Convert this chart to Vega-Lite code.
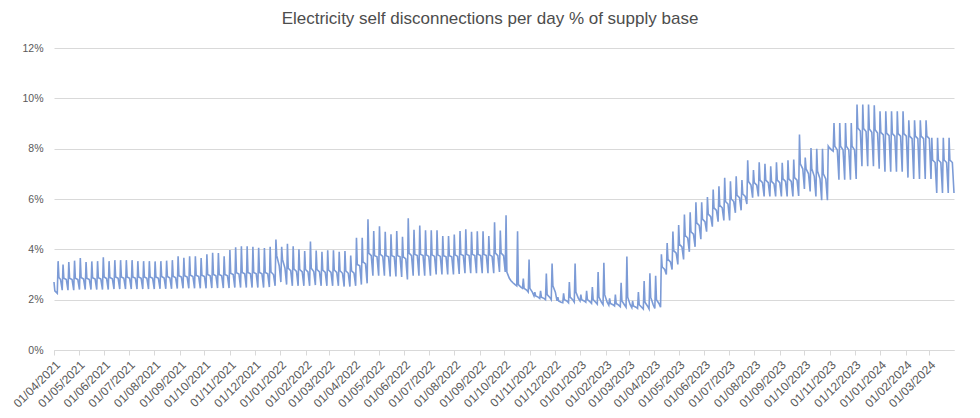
{
  "$schema": "https://vega.github.io/schema/vega-lite/v6.json",
  "width": 900,
  "height": 302,
  "autosize": {"type": "none"},
  "padding": {"left": 54, "top": 48, "right": 26, "bottom": 68},
  "background": "white",
  "title": {"text": "Electricity self disconnections per day % of supply base", "font": "Liberation Sans", "fontSize": 17, "fontWeight": "normal", "color": "#4d4d4d", "anchor": "middle", "offset": 15, "dx": -14},
  "data": {"values": [
{"d":"2021-04-01","v":2.7},{"d":"2021-04-02","v":2.35},{"d":"2021-04-05","v":2.25},{"d":"2021-04-06","v":3.53},{"d":"2021-04-07","v":2.88},{"d":"2021-04-09","v":2.8},{"d":"2021-04-11","v":2.38},
{"d":"2021-04-12","v":3.4},{"d":"2021-04-13","v":2.85},{"d":"2021-04-16","v":2.8},{"d":"2021-04-18","v":2.38},
{"d":"2021-04-19","v":3.5},{"d":"2021-04-20","v":2.85},{"d":"2021-04-23","v":2.8},{"d":"2021-04-25","v":2.38},
{"d":"2021-04-26","v":3.55},{"d":"2021-04-27","v":2.85},{"d":"2021-04-30","v":2.8},{"d":"2021-05-02","v":2.4},
{"d":"2021-05-03","v":3.65},{"d":"2021-05-04","v":2.88},{"d":"2021-05-07","v":2.82},{"d":"2021-05-09","v":2.4},
{"d":"2021-05-10","v":3.5},{"d":"2021-05-11","v":2.85},{"d":"2021-05-14","v":2.8},{"d":"2021-05-16","v":2.4},
{"d":"2021-05-17","v":3.52},{"d":"2021-05-18","v":2.87},{"d":"2021-05-21","v":2.82},{"d":"2021-05-23","v":2.4},
{"d":"2021-05-24","v":3.53},{"d":"2021-05-25","v":2.87},{"d":"2021-05-28","v":2.82},{"d":"2021-05-30","v":2.4},
{"d":"2021-05-31","v":3.68},{"d":"2021-06-01","v":2.9},{"d":"2021-06-04","v":2.84},{"d":"2021-06-06","v":2.4},
{"d":"2021-06-07","v":3.53},{"d":"2021-06-08","v":2.88},{"d":"2021-06-11","v":2.83},{"d":"2021-06-13","v":2.42},
{"d":"2021-06-14","v":3.57},{"d":"2021-06-15","v":2.9},{"d":"2021-06-18","v":2.85},{"d":"2021-06-20","v":2.42},
{"d":"2021-06-21","v":3.57},{"d":"2021-06-22","v":2.9},{"d":"2021-06-25","v":2.85},{"d":"2021-06-27","v":2.42},
{"d":"2021-06-28","v":3.57},{"d":"2021-06-29","v":2.9},{"d":"2021-07-02","v":2.85},{"d":"2021-07-04","v":2.42},
{"d":"2021-07-05","v":3.57},{"d":"2021-07-06","v":2.9},{"d":"2021-07-09","v":2.85},{"d":"2021-07-11","v":2.42},
{"d":"2021-07-12","v":3.53},{"d":"2021-07-13","v":2.9},{"d":"2021-07-16","v":2.85},{"d":"2021-07-18","v":2.42},
{"d":"2021-07-19","v":3.53},{"d":"2021-07-20","v":2.9},{"d":"2021-07-23","v":2.85},{"d":"2021-07-25","v":2.42},
{"d":"2021-07-26","v":3.53},{"d":"2021-07-27","v":2.9},{"d":"2021-07-30","v":2.85},{"d":"2021-08-01","v":2.42},
{"d":"2021-08-02","v":3.52},{"d":"2021-08-03","v":2.9},{"d":"2021-08-06","v":2.85},{"d":"2021-08-08","v":2.43},
{"d":"2021-08-09","v":3.53},{"d":"2021-08-10","v":2.92},{"d":"2021-08-13","v":2.86},{"d":"2021-08-15","v":2.43},
{"d":"2021-08-16","v":3.55},{"d":"2021-08-17","v":2.92},{"d":"2021-08-20","v":2.86},{"d":"2021-08-22","v":2.43},
{"d":"2021-08-23","v":3.57},{"d":"2021-08-24","v":2.93},{"d":"2021-08-27","v":2.87},{"d":"2021-08-29","v":2.44},
{"d":"2021-08-30","v":3.72},{"d":"2021-08-31","v":2.95},{"d":"2021-09-03","v":2.9},{"d":"2021-09-05","v":2.45},
{"d":"2021-09-06","v":3.66},{"d":"2021-09-07","v":2.95},{"d":"2021-09-10","v":2.9},{"d":"2021-09-12","v":2.45},
{"d":"2021-09-13","v":3.72},{"d":"2021-09-14","v":2.97},{"d":"2021-09-17","v":2.92},{"d":"2021-09-19","v":2.45},
{"d":"2021-09-20","v":3.72},{"d":"2021-09-21","v":2.97},{"d":"2021-09-24","v":2.92},{"d":"2021-09-26","v":2.45},
{"d":"2021-09-27","v":3.65},{"d":"2021-09-28","v":2.97},{"d":"2021-10-01","v":2.92},{"d":"2021-10-03","v":2.45},
{"d":"2021-10-04","v":3.8},{"d":"2021-10-05","v":3.0},{"d":"2021-10-08","v":2.95},{"d":"2021-10-10","v":2.46},
{"d":"2021-10-11","v":3.86},{"d":"2021-10-12","v":3.0},{"d":"2021-10-15","v":2.95},{"d":"2021-10-17","v":2.46},
{"d":"2021-10-18","v":3.85},{"d":"2021-10-19","v":3.0},{"d":"2021-10-22","v":2.95},{"d":"2021-10-24","v":2.46},
{"d":"2021-10-25","v":3.72},{"d":"2021-10-26","v":3.0},{"d":"2021-10-29","v":2.95},{"d":"2021-10-31","v":2.46},
{"d":"2021-11-01","v":3.97},{"d":"2021-11-02","v":3.05},{"d":"2021-11-05","v":3.0},{"d":"2021-11-07","v":2.48},
{"d":"2021-11-08","v":4.08},{"d":"2021-11-09","v":3.07},{"d":"2021-11-12","v":3.02},{"d":"2021-11-14","v":2.48},
{"d":"2021-11-15","v":4.12},{"d":"2021-11-16","v":3.08},{"d":"2021-11-19","v":3.03},{"d":"2021-11-21","v":2.48},
{"d":"2021-11-22","v":4.12},{"d":"2021-11-23","v":3.08},{"d":"2021-11-26","v":3.03},{"d":"2021-11-28","v":2.48},
{"d":"2021-11-29","v":4.1},{"d":"2021-11-30","v":3.08},{"d":"2021-12-03","v":3.03},{"d":"2021-12-05","v":2.48},
{"d":"2021-12-06","v":4.06},{"d":"2021-12-07","v":3.08},{"d":"2021-12-10","v":3.03},{"d":"2021-12-12","v":2.48},
{"d":"2021-12-13","v":4.05},{"d":"2021-12-14","v":3.08},{"d":"2021-12-17","v":3.03},{"d":"2021-12-19","v":2.5},
{"d":"2021-12-20","v":4.1},{"d":"2021-12-21","v":3.1},{"d":"2021-12-24","v":3.0},{"d":"2021-12-26","v":2.55},
{"d":"2021-12-27","v":4.39},{"d":"2021-12-28","v":3.75},{"d":"2021-12-31","v":3.35},{"d":"2022-01-02","v":2.7},
{"d":"2022-01-03","v":4.1},{"d":"2022-01-04","v":3.6},{"d":"2022-01-07","v":3.25},{"d":"2022-01-09","v":2.6},
{"d":"2022-01-10","v":4.22},{"d":"2022-01-11","v":3.25},{"d":"2022-01-14","v":3.15},{"d":"2022-01-16","v":2.55},
{"d":"2022-01-17","v":4.12},{"d":"2022-01-18","v":3.22},{"d":"2022-01-21","v":3.12},{"d":"2022-01-23","v":2.55},
{"d":"2022-01-24","v":4.0},{"d":"2022-01-25","v":3.2},{"d":"2022-01-28","v":3.1},{"d":"2022-01-30","v":2.55},
{"d":"2022-01-31","v":3.93},{"d":"2022-02-01","v":3.2},{"d":"2022-02-04","v":3.1},{"d":"2022-02-06","v":2.55},
{"d":"2022-02-07","v":4.31},{"d":"2022-02-08","v":3.25},{"d":"2022-02-11","v":3.12},{"d":"2022-02-13","v":2.58},
{"d":"2022-02-14","v":3.95},{"d":"2022-02-15","v":3.2},{"d":"2022-02-18","v":3.1},{"d":"2022-02-20","v":2.55},
{"d":"2022-02-21","v":3.9},{"d":"2022-02-22","v":3.18},{"d":"2022-02-25","v":3.08},{"d":"2022-02-27","v":2.55},
{"d":"2022-02-28","v":3.96},{"d":"2022-03-01","v":3.18},{"d":"2022-03-04","v":3.08},{"d":"2022-03-06","v":2.55},
{"d":"2022-03-07","v":3.96},{"d":"2022-03-08","v":3.18},{"d":"2022-03-11","v":3.08},{"d":"2022-03-13","v":2.55},
{"d":"2022-03-14","v":3.9},{"d":"2022-03-15","v":3.15},{"d":"2022-03-18","v":3.05},{"d":"2022-03-20","v":2.52},
{"d":"2022-03-21","v":3.93},{"d":"2022-03-22","v":3.15},{"d":"2022-03-25","v":3.05},{"d":"2022-03-27","v":2.52},
{"d":"2022-03-28","v":3.75},{"d":"2022-03-29","v":3.15},{"d":"2022-04-01","v":3.05},{"d":"2022-04-03","v":2.55},
{"d":"2022-04-04","v":4.46},{"d":"2022-04-05","v":3.4},{"d":"2022-04-08","v":3.35},{"d":"2022-04-10","v":2.6},
{"d":"2022-04-11","v":4.46},{"d":"2022-04-12","v":3.5},{"d":"2022-04-15","v":3.42},{"d":"2022-04-17","v":2.65},
{"d":"2022-04-18","v":5.19},{"d":"2022-04-19","v":3.85},{"d":"2022-04-22","v":3.75},{"d":"2022-04-24","v":2.95},
{"d":"2022-04-25","v":4.73},{"d":"2022-04-26","v":3.75},{"d":"2022-04-29","v":3.7},{"d":"2022-05-01","v":2.95},
{"d":"2022-05-02","v":4.92},{"d":"2022-05-03","v":3.8},{"d":"2022-05-06","v":3.72},{"d":"2022-05-08","v":2.95},
{"d":"2022-05-09","v":4.7},{"d":"2022-05-10","v":3.75},{"d":"2022-05-13","v":3.7},{"d":"2022-05-15","v":2.92},
{"d":"2022-05-16","v":4.6},{"d":"2022-05-17","v":3.75},{"d":"2022-05-20","v":3.7},{"d":"2022-05-22","v":2.92},
{"d":"2022-05-23","v":4.73},{"d":"2022-05-24","v":3.75},{"d":"2022-05-27","v":3.7},{"d":"2022-05-29","v":2.9},
{"d":"2022-05-30","v":4.5},{"d":"2022-05-31","v":3.7},{"d":"2022-06-03","v":3.62},{"d":"2022-06-05","v":2.8},
{"d":"2022-06-06","v":5.23},{"d":"2022-06-07","v":3.85},{"d":"2022-06-10","v":3.75},{"d":"2022-06-12","v":2.95},
{"d":"2022-06-13","v":4.78},{"d":"2022-06-14","v":3.8},{"d":"2022-06-17","v":3.75},{"d":"2022-06-19","v":2.95},
{"d":"2022-06-20","v":4.95},{"d":"2022-06-21","v":3.8},{"d":"2022-06-24","v":3.75},{"d":"2022-06-26","v":2.95},
{"d":"2022-06-27","v":4.76},{"d":"2022-06-28","v":3.78},{"d":"2022-07-01","v":3.72},{"d":"2022-07-03","v":2.95},
{"d":"2022-07-04","v":4.76},{"d":"2022-07-05","v":3.78},{"d":"2022-07-08","v":3.72},{"d":"2022-07-10","v":3.0},
{"d":"2022-07-11","v":4.76},{"d":"2022-07-12","v":3.78},{"d":"2022-07-15","v":3.72},{"d":"2022-07-17","v":3.0},
{"d":"2022-07-18","v":4.53},{"d":"2022-07-19","v":3.75},{"d":"2022-07-22","v":3.7},{"d":"2022-07-24","v":3.0},
{"d":"2022-07-25","v":4.53},{"d":"2022-07-26","v":3.75},{"d":"2022-07-29","v":3.7},{"d":"2022-07-31","v":3.0},
{"d":"2022-08-01","v":4.59},{"d":"2022-08-02","v":3.78},{"d":"2022-08-05","v":3.72},{"d":"2022-08-07","v":3.02},
{"d":"2022-08-08","v":4.73},{"d":"2022-08-09","v":3.8},{"d":"2022-08-12","v":3.75},{"d":"2022-08-14","v":3.05},
{"d":"2022-08-15","v":4.8},{"d":"2022-08-16","v":3.8},{"d":"2022-08-19","v":3.75},{"d":"2022-08-21","v":3.05},
{"d":"2022-08-22","v":4.7},{"d":"2022-08-23","v":3.8},{"d":"2022-08-26","v":3.75},{"d":"2022-08-28","v":3.05},
{"d":"2022-08-29","v":4.72},{"d":"2022-08-30","v":3.8},{"d":"2022-09-02","v":3.75},{"d":"2022-09-04","v":3.05},
{"d":"2022-09-05","v":4.72},{"d":"2022-09-06","v":3.8},{"d":"2022-09-09","v":3.75},{"d":"2022-09-11","v":3.05},
{"d":"2022-09-12","v":4.53},{"d":"2022-09-13","v":3.78},{"d":"2022-09-16","v":3.72},{"d":"2022-09-18","v":3.05},
{"d":"2022-09-19","v":5.08},{"d":"2022-09-20","v":3.85},{"d":"2022-09-23","v":3.75},{"d":"2022-09-25","v":3.1},
{"d":"2022-09-26","v":4.75},{"d":"2022-09-27","v":3.85},{"d":"2022-09-30","v":3.75},{"d":"2022-10-02","v":3.1},
{"d":"2022-10-03","v":5.35},{"d":"2022-10-04","v":3.1},{"d":"2022-10-07","v":2.85},{"d":"2022-10-09","v":2.75},
{"d":"2022-10-10","v":2.72},{"d":"2022-10-11","v":2.68},{"d":"2022-10-14","v":2.6},{"d":"2022-10-16","v":2.55},
{"d":"2022-10-17","v":4.72},{"d":"2022-10-18","v":2.6},{"d":"2022-10-21","v":2.5},{"d":"2022-10-23","v":2.45},
{"d":"2022-10-24","v":2.84},{"d":"2022-10-25","v":2.45},{"d":"2022-10-28","v":2.38},{"d":"2022-10-30","v":2.3},
{"d":"2022-10-31","v":3.6},{"d":"2022-11-01","v":2.45},{"d":"2022-11-04","v":2.3},{"d":"2022-11-06","v":2.15},
{"d":"2022-11-07","v":2.3},{"d":"2022-11-08","v":2.15},{"d":"2022-11-11","v":2.1},{"d":"2022-11-13","v":2.05},
{"d":"2022-11-14","v":2.35},{"d":"2022-11-15","v":2.1},{"d":"2022-11-18","v":2.05},{"d":"2022-11-20","v":2.0},
{"d":"2022-11-21","v":3.04},{"d":"2022-11-22","v":2.2},{"d":"2022-11-25","v":2.1},{"d":"2022-11-27","v":2.0},
{"d":"2022-11-28","v":3.44},{"d":"2022-11-29","v":2.55},{"d":"2022-12-02","v":2.3},{"d":"2022-12-04","v":1.95},
{"d":"2022-12-05","v":2.1},{"d":"2022-12-06","v":1.95},{"d":"2022-12-09","v":1.9},{"d":"2022-12-11","v":1.88},
{"d":"2022-12-12","v":2.25},{"d":"2022-12-13","v":2.0},{"d":"2022-12-16","v":1.95},{"d":"2022-12-18","v":1.88},
{"d":"2022-12-19","v":2.7},{"d":"2022-12-20","v":2.1},{"d":"2022-12-23","v":2.0},{"d":"2022-12-25","v":1.9},
{"d":"2022-12-26","v":3.44},{"d":"2022-12-27","v":2.3},{"d":"2022-12-30","v":2.05},{"d":"2023-01-01","v":1.95},
{"d":"2023-01-02","v":2.2},{"d":"2023-01-03","v":2.0},{"d":"2023-01-06","v":1.95},{"d":"2023-01-08","v":1.9},
{"d":"2023-01-09","v":2.35},{"d":"2023-01-10","v":2.0},{"d":"2023-01-13","v":1.92},{"d":"2023-01-15","v":1.85},
{"d":"2023-01-16","v":2.5},{"d":"2023-01-17","v":2.0},{"d":"2023-01-20","v":1.9},{"d":"2023-01-22","v":1.82},
{"d":"2023-01-23","v":3.1},{"d":"2023-01-24","v":2.1},{"d":"2023-01-27","v":1.9},{"d":"2023-01-29","v":1.8},
{"d":"2023-01-30","v":3.47},{"d":"2023-01-31","v":2.2},{"d":"2023-02-03","v":1.9},{"d":"2023-02-05","v":1.78},
{"d":"2023-02-06","v":2.05},{"d":"2023-02-07","v":1.85},{"d":"2023-02-10","v":1.8},{"d":"2023-02-12","v":1.75},
{"d":"2023-02-13","v":2.2},{"d":"2023-02-14","v":1.85},{"d":"2023-02-17","v":1.78},{"d":"2023-02-19","v":1.72},
{"d":"2023-02-20","v":2.67},{"d":"2023-02-21","v":1.95},{"d":"2023-02-24","v":1.8},{"d":"2023-02-26","v":1.7},
{"d":"2023-02-27","v":3.71},{"d":"2023-02-28","v":2.1},{"d":"2023-03-03","v":1.8},{"d":"2023-03-05","v":1.68},
{"d":"2023-03-06","v":1.95},{"d":"2023-03-07","v":1.75},{"d":"2023-03-10","v":1.7},{"d":"2023-03-12","v":1.65},
{"d":"2023-03-13","v":2.3},{"d":"2023-03-14","v":1.8},{"d":"2023-03-17","v":1.7},{"d":"2023-03-19","v":1.63},
{"d":"2023-03-20","v":2.74},{"d":"2023-03-21","v":1.9},{"d":"2023-03-24","v":1.75},{"d":"2023-03-26","v":1.63},
{"d":"2023-03-27","v":3.05},{"d":"2023-03-28","v":2.1},{"d":"2023-03-31","v":1.8},{"d":"2023-04-02","v":1.65},
{"d":"2023-04-03","v":2.95},{"d":"2023-04-04","v":2.0},{"d":"2023-04-07","v":1.85},{"d":"2023-04-09","v":1.7},
{"d":"2023-04-10","v":3.8},{"d":"2023-04-11","v":3.3},{"d":"2023-04-14","v":3.2},{"d":"2023-04-16","v":3.0},
{"d":"2023-04-17","v":4.25},{"d":"2023-04-18","v":3.6},{"d":"2023-04-21","v":3.5},{"d":"2023-04-23","v":3.2},
{"d":"2023-04-24","v":4.71},{"d":"2023-04-25","v":3.95},{"d":"2023-04-28","v":3.85},{"d":"2023-04-30","v":3.4},
{"d":"2023-05-01","v":4.97},{"d":"2023-05-02","v":4.2},{"d":"2023-05-05","v":4.1},{"d":"2023-05-07","v":3.6},
{"d":"2023-05-08","v":5.38},{"d":"2023-05-09","v":4.55},{"d":"2023-05-12","v":4.45},{"d":"2023-05-14","v":3.9},
{"d":"2023-05-15","v":5.47},{"d":"2023-05-16","v":4.7},{"d":"2023-05-19","v":4.6},{"d":"2023-05-21","v":4.1},
{"d":"2023-05-22","v":5.87},{"d":"2023-05-23","v":5.05},{"d":"2023-05-26","v":4.95},{"d":"2023-05-28","v":4.4},
{"d":"2023-05-29","v":5.87},{"d":"2023-05-30","v":5.2},{"d":"2023-06-02","v":5.1},{"d":"2023-06-04","v":4.7},
{"d":"2023-06-05","v":6.08},{"d":"2023-06-06","v":5.4},{"d":"2023-06-09","v":5.3},{"d":"2023-06-11","v":4.9},
{"d":"2023-06-12","v":6.38},{"d":"2023-06-13","v":5.65},{"d":"2023-06-16","v":5.55},{"d":"2023-06-18","v":5.1},
{"d":"2023-06-19","v":6.51},{"d":"2023-06-20","v":5.75},{"d":"2023-06-23","v":5.65},{"d":"2023-06-25","v":5.15},
{"d":"2023-06-26","v":6.84},{"d":"2023-06-27","v":5.9},{"d":"2023-06-30","v":5.8},{"d":"2023-07-02","v":5.15},
{"d":"2023-07-03","v":6.7},{"d":"2023-07-04","v":6.0},{"d":"2023-07-07","v":5.9},{"d":"2023-07-09","v":5.45},
{"d":"2023-07-10","v":6.9},{"d":"2023-07-11","v":6.15},{"d":"2023-07-14","v":6.05},{"d":"2023-07-16","v":5.55},
{"d":"2023-07-17","v":6.75},{"d":"2023-07-18","v":6.2},{"d":"2023-07-21","v":6.1},{"d":"2023-07-23","v":5.8},
{"d":"2023-07-24","v":7.54},{"d":"2023-07-25","v":6.7},{"d":"2023-07-28","v":6.55},{"d":"2023-07-30","v":6.05},
{"d":"2023-07-31","v":7.15},{"d":"2023-08-01","v":6.65},{"d":"2023-08-04","v":6.55},{"d":"2023-08-06","v":6.1},
{"d":"2023-08-07","v":7.46},{"d":"2023-08-08","v":6.75},{"d":"2023-08-11","v":6.65},{"d":"2023-08-13","v":6.1},
{"d":"2023-08-14","v":7.4},{"d":"2023-08-15","v":6.75},{"d":"2023-08-18","v":6.65},{"d":"2023-08-20","v":6.1},
{"d":"2023-08-21","v":7.3},{"d":"2023-08-22","v":6.7},{"d":"2023-08-25","v":6.6},{"d":"2023-08-27","v":6.1},
{"d":"2023-08-28","v":7.46},{"d":"2023-08-29","v":6.75},{"d":"2023-09-01","v":6.65},{"d":"2023-09-03","v":6.1},
{"d":"2023-09-04","v":7.44},{"d":"2023-09-05","v":6.8},{"d":"2023-09-08","v":6.7},{"d":"2023-09-10","v":6.1},
{"d":"2023-09-11","v":7.54},{"d":"2023-09-12","v":6.8},{"d":"2023-09-15","v":6.7},{"d":"2023-09-17","v":6.1},
{"d":"2023-09-18","v":7.57},{"d":"2023-09-19","v":6.85},{"d":"2023-09-22","v":6.75},{"d":"2023-09-24","v":6.12},
{"d":"2023-09-25","v":8.56},{"d":"2023-09-26","v":7.4},{"d":"2023-09-29","v":7.2},{"d":"2023-10-01","v":6.4},
{"d":"2023-10-02","v":7.65},{"d":"2023-10-03","v":7.2},{"d":"2023-10-06","v":7.0},{"d":"2023-10-08","v":6.3},
{"d":"2023-10-09","v":8.03},{"d":"2023-10-10","v":7.2},{"d":"2023-10-13","v":6.9},{"d":"2023-10-15","v":6.1},
{"d":"2023-10-16","v":8.0},{"d":"2023-10-17","v":7.1},{"d":"2023-10-20","v":6.8},{"d":"2023-10-22","v":5.95},
{"d":"2023-10-23","v":8.0},{"d":"2023-10-24","v":7.0},{"d":"2023-10-27","v":6.8},{"d":"2023-10-29","v":5.95},
{"d":"2023-10-30","v":8.1},{"d":"2023-10-31","v":8.05},{"d":"2023-11-03","v":7.95},{"d":"2023-11-05","v":7.9},
{"d":"2023-11-06","v":9.02},{"d":"2023-11-07","v":8.1},{"d":"2023-11-10","v":7.95},{"d":"2023-11-12","v":6.77},
{"d":"2023-11-13","v":9.02},{"d":"2023-11-14","v":8.1},{"d":"2023-11-17","v":7.95},{"d":"2023-11-19","v":6.77},
{"d":"2023-11-20","v":9.02},{"d":"2023-11-21","v":8.1},{"d":"2023-11-24","v":7.95},{"d":"2023-11-26","v":6.77},
{"d":"2023-11-27","v":9.02},{"d":"2023-11-28","v":8.1},{"d":"2023-12-01","v":7.95},{"d":"2023-12-03","v":6.8},
{"d":"2023-12-04","v":9.75},{"d":"2023-12-05","v":8.82},{"d":"2023-12-08","v":8.7},{"d":"2023-12-10","v":7.3},
{"d":"2023-12-11","v":9.75},{"d":"2023-12-12","v":8.8},{"d":"2023-12-15","v":8.68},{"d":"2023-12-17","v":7.3},
{"d":"2023-12-18","v":9.75},{"d":"2023-12-19","v":8.78},{"d":"2023-12-22","v":8.65},{"d":"2023-12-24","v":7.3},
{"d":"2023-12-25","v":9.72},{"d":"2023-12-26","v":8.75},{"d":"2023-12-29","v":8.62},{"d":"2023-12-31","v":7.2},
{"d":"2024-01-01","v":9.49},{"d":"2024-01-02","v":8.65},{"d":"2024-01-05","v":8.55},{"d":"2024-01-07","v":7.08},
{"d":"2024-01-08","v":9.49},{"d":"2024-01-09","v":8.62},{"d":"2024-01-12","v":8.52},{"d":"2024-01-14","v":7.08},
{"d":"2024-01-15","v":9.49},{"d":"2024-01-16","v":8.6},{"d":"2024-01-19","v":8.5},{"d":"2024-01-21","v":7.08},
{"d":"2024-01-22","v":9.49},{"d":"2024-01-23","v":8.6},{"d":"2024-01-26","v":8.5},{"d":"2024-01-28","v":7.08},
{"d":"2024-01-29","v":9.49},{"d":"2024-01-30","v":8.6},{"d":"2024-02-02","v":8.5},{"d":"2024-02-04","v":6.85},
{"d":"2024-02-05","v":9.13},{"d":"2024-02-06","v":8.5},{"d":"2024-02-09","v":8.4},{"d":"2024-02-11","v":6.8},
{"d":"2024-02-12","v":9.13},{"d":"2024-02-13","v":8.5},{"d":"2024-02-16","v":8.4},{"d":"2024-02-18","v":6.8},
{"d":"2024-02-19","v":9.13},{"d":"2024-02-20","v":8.5},{"d":"2024-02-23","v":8.4},{"d":"2024-02-25","v":6.8},
{"d":"2024-02-26","v":9.13},{"d":"2024-02-27","v":8.5},{"d":"2024-03-01","v":8.4},{"d":"2024-03-03","v":6.8},
{"d":"2024-03-04","v":8.43},{"d":"2024-03-05","v":7.55},{"d":"2024-03-08","v":7.45},{"d":"2024-03-10","v":6.24},
{"d":"2024-03-11","v":8.43},{"d":"2024-03-12","v":7.55},{"d":"2024-03-15","v":7.45},{"d":"2024-03-17","v":6.24},
{"d":"2024-03-18","v":8.43},{"d":"2024-03-19","v":7.55},{"d":"2024-03-22","v":7.45},{"d":"2024-03-24","v":6.24},
{"d":"2024-03-25","v":8.43},{"d":"2024-03-26","v":7.55},{"d":"2024-03-29","v":7.45},{"d":"2024-03-31","v":6.24}
  ]},
  "mark": {"type": "line", "color": "#7c9bd6", "strokeWidth": 1.6},
  "encoding": {
    "x": {
      "field": "d", "type": "temporal",
      "scale": {"type": "utc", "domain": [{"year": 2021, "month": 4, "date": 1, "utc": true}, {"year": 2024, "month": 3, "date": 31, "utc": true}]},
      "axis": {"title": null, "format": "%d/%m/%Y", "tickCount": {"interval": "month", "step": 1}, "labelAngle": -45, "labelFont": "Liberation Sans", "labelFontSize": 12, "labelColor": "#595959", "labelOverlap": false, "labelPadding": 4, "tickColor": "#d9d9d9", "tickSize": 5, "domainColor": "#d9d9d9", "grid": false}
    },
    "y": {
      "field": "v", "type": "quantitative",
      "scale": {"domain": [0, 12], "nice": false},
      "axis": {"title": null, "values": [0, 2, 4, 6, 8, 10, 12], "labelExpr": "datum.value + '%'", "labelFont": "Liberation Sans", "labelFontSize": 10.5, "labelColor": "#595959", "labelPadding": 11, "ticks": false, "domain": false, "grid": true, "gridColor": "#d9d9d9"}
    }
  },
  "config": {"view": {"stroke": null}, "font": "Liberation Sans"}
}
